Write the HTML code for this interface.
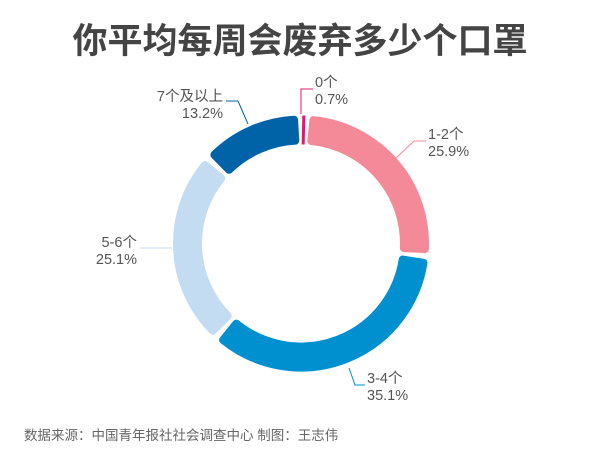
<!DOCTYPE html><html><head><meta charset="utf-8"><style>
body{margin:0;background:#fff;width:600px;height:470px;overflow:hidden;font-family:"Liberation Sans","Noto Sans CJK SC",sans-serif}
</style></head><body>
<svg id="s" width="600" height="470" xmlns="http://www.w3.org/2000/svg" font-family="Liberation Sans, Noto Sans CJK SC, sans-serif">
<text x="300" y="53" text-anchor="middle" font-size="35" font-weight="bold" fill="#444">你平均每周会废弃多少个口罩</text>
<g id="d"></g>
<g font-size="14.5" fill="#555">
<polyline points="301,114 301,89 313,89" fill="none" stroke="#e5176b" stroke-width="1"/>
<text x="315" y="87">0个</text><text x="315" y="104">0.7%</text>
<polyline points="396,158 414,141 426,141" fill="none" stroke="#f48a98" stroke-width="1"/>
<text x="428" y="139">1-2个</text><text x="428" y="156">25.9%</text>
<polyline points="248,124 238,101 226,101" fill="none" stroke="#0063a8" stroke-width="1"/>
<text x="223" y="101" text-anchor="end">7个及以上</text><text x="223" y="118" text-anchor="end">13.2%</text>
<polyline points="172,248 140,248" fill="none" stroke="#c3dcf2" stroke-width="1"/>
<text x="137" y="247" text-anchor="end">5-6个</text><text x="137" y="264" text-anchor="end">25.1%</text>
<polyline points="349,368 355,385 365,385" fill="none" stroke="#0090d0" stroke-width="1"/>
<text x="367" y="383">3-4个</text><text x="367" y="400">35.1%</text>
</g>
<text x="24" y="440" font-size="13.5" fill="#666">数据来源：中国青年报社社会调查中心 制图：王志伟</text>
</svg>
<script>
var cx=301,cy=243.5,R=128,r=99,segs=[[0.7,'#e5176b'],[25.9,'#f48a98'],[35.1,'#0090d0'],[25.1,'#c3dcf2'],[13.2,'#0063a8']];
var a=0,h='';
function p(rad,ang){ang=(ang-90)*Math.PI/180;return (cx+rad*Math.cos(ang)).toFixed(2)+','+(cy+rad*Math.sin(ang)).toFixed(2);}
segs.forEach(function(s){var span=s[0]*3.6,a0=a,a1=a+span;a=a1;
if(span<5){var m=(a0+a1)/2;h+='<line x1="'+p(R,m).split(',')[0]+'" y1="'+p(R,m).split(',')[1]+'" x2="'+p(r,m).split(',')[0]+'" y2="'+p(r,m).split(',')[1]+'" stroke="'+s[1]+'" stroke-width="3"/>';return;}
var g=3.2,Ro=R-4,ri=r+4,b0=a0+g,b1=a1-g,l=(b1-b0)>180?1:0;
h+='<path d="M'+p(Ro,b0)+' A'+Ro+','+Ro+' 0 '+l+' 1 '+p(Ro,b1)+' L'+p(ri,b1)+' A'+ri+','+ri+' 0 '+l+' 0 '+p(ri,b0)+'Z" fill="'+s[1]+'" stroke="'+s[1]+'" stroke-width="8" stroke-linejoin="round"/>';});
document.getElementById('d').innerHTML=h;
</script>
</body></html>
